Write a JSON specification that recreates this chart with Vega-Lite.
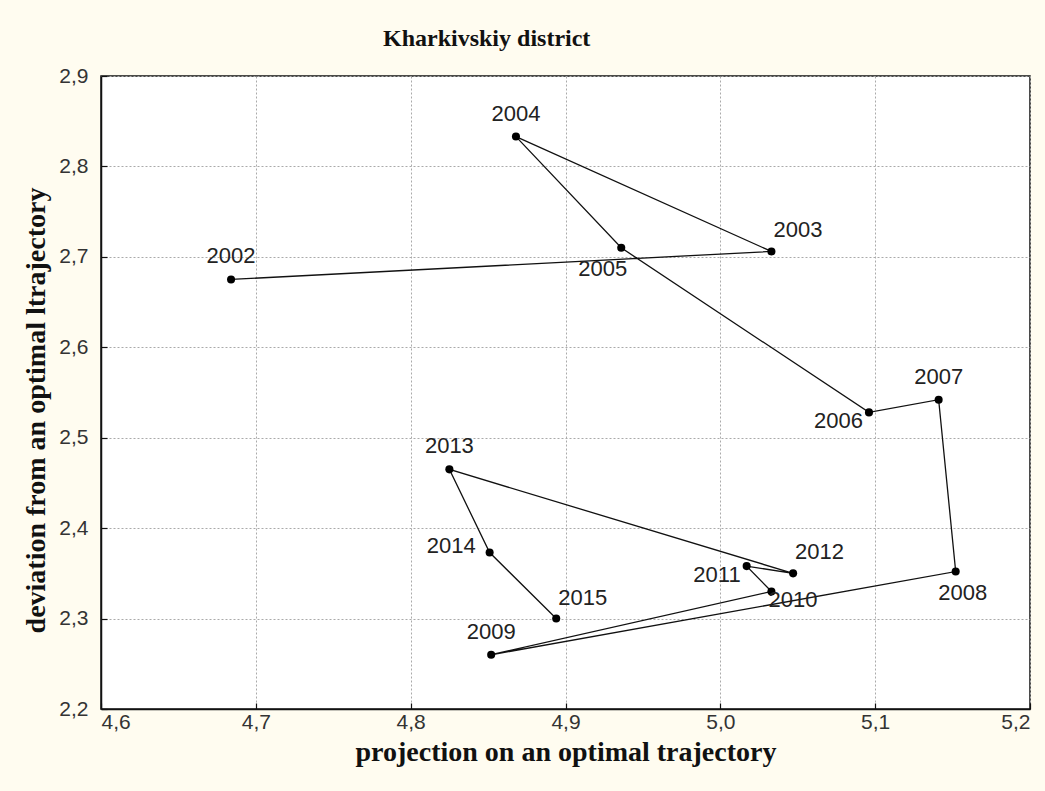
{
  "$schema": "https://vega.github.io/schema/vega-lite/v6.json",
  "width": 929,
  "height": 633,
  "autosize": "none",
  "padding": {"left": 101, "top": 76, "right": 15, "bottom": 82},
  "background": "#FFFCF0",
  "title": {
    "text": "Kharkivskiy district",
    "anchor": "start",
    "frame": "group",
    "dx": 282,
    "offset": 14,
    "font": "Liberation Serif",
    "fontSize": 24,
    "fontWeight": "bold",
    "color": "#111111"
  },
  "data": {
    "values": [
      {"year": 2002, "proj": 4.684, "dev": 2.675},
      {"year": 2003, "proj": 5.033, "dev": 2.706},
      {"year": 2004, "proj": 4.868, "dev": 2.833},
      {"year": 2005, "proj": 4.936, "dev": 2.710},
      {"year": 2006, "proj": 5.096, "dev": 2.528},
      {"year": 2007, "proj": 5.141, "dev": 2.542},
      {"year": 2008, "proj": 5.152, "dev": 2.352},
      {"year": 2009, "proj": 4.852, "dev": 2.260},
      {"year": 2010, "proj": 5.033, "dev": 2.330},
      {"year": 2011, "proj": 5.017, "dev": 2.358},
      {"year": 2012, "proj": 5.047, "dev": 2.350},
      {"year": 2013, "proj": 4.825, "dev": 2.465},
      {"year": 2014, "proj": 4.851, "dev": 2.373},
      {"year": 2015, "proj": 4.894, "dev": 2.300}
    ]
  },
  "encoding": {
    "x": {
      "field": "proj", "type": "quantitative",
      "scale": {"domain": [4.6, 5.2], "nice": false, "zero": false},
      "axis": {
        "title": "projection on an optimal trajectory",
        "values": [4.6, 4.7, 4.8, 4.9, 5.0, 5.1, 5.2],
        "labelExpr": "replace(format(datum.value, '.1f'), '.', ',')"
      }
    },
    "y": {
      "field": "dev", "type": "quantitative",
      "scale": {"domain": [2.2, 2.9], "nice": false, "zero": false},
      "axis": {
        "title": "deviation from an optimal ltrajectory",
        "values": [2.2, 2.3, 2.4, 2.5, 2.6, 2.7, 2.8, 2.9],
        "labelExpr": "replace(format(datum.value, '.1f'), '.', ',')",
        "titleY": 334
      }
    }
  },
  "layer": [
    {
      "mark": {"type": "line", "color": "#111111", "strokeWidth": 1.3},
      "encoding": {"order": {"field": "year", "type": "quantitative"}}
    },
    {
      "mark": {"type": "point", "filled": true, "color": "#000000", "opacity": 1, "size": 65}
    },
    {
      "transform": [{"filter": {"field": "year", "oneOf": [2002, 2004, 2007, 2009, 2013]}}],
      "mark": {"type": "text", "align": "center", "baseline": "middle", "dy": -23, "fontSize": 22, "font": "Liberation Sans", "color": "#222222"},
      "encoding": {"text": {"field": "year", "type": "nominal"}}
    },
    {
      "transform": [{"filter": {"field": "year", "oneOf": [2003, 2012, 2015]}}],
      "mark": {"type": "text", "align": "left", "baseline": "middle", "dx": 2, "dy": -21, "fontSize": 22, "font": "Liberation Sans", "color": "#222222"},
      "encoding": {"text": {"field": "year", "type": "nominal"}}
    },
    {
      "transform": [{"filter": {"field": "year", "oneOf": [2006, 2011]}}],
      "mark": {"type": "text", "align": "right", "baseline": "middle", "dx": -6, "dy": 9, "fontSize": 22, "font": "Liberation Sans", "color": "#222222"},
      "encoding": {"text": {"field": "year", "type": "nominal"}}
    },
    {
      "transform": [{"filter": {"field": "year", "oneOf": [2014]}}],
      "mark": {"type": "text", "align": "right", "baseline": "middle", "dx": -14, "dy": -7, "fontSize": 22, "font": "Liberation Sans", "color": "#222222"},
      "encoding": {"text": {"field": "year", "type": "nominal"}}
    },
    {
      "transform": [{"filter": {"field": "year", "oneOf": [2005]}}],
      "mark": {"type": "text", "align": "right", "baseline": "middle", "dx": 6, "dy": 21, "fontSize": 22, "font": "Liberation Sans", "color": "#222222"},
      "encoding": {"text": {"field": "year", "type": "nominal"}}
    },
    {
      "transform": [{"filter": {"field": "year", "oneOf": [2008]}}],
      "mark": {"type": "text", "align": "center", "baseline": "middle", "dx": 7, "dy": 21, "fontSize": 22, "font": "Liberation Sans", "color": "#222222"},
      "encoding": {"text": {"field": "year", "type": "nominal"}}
    },
    {
      "transform": [{"filter": {"field": "year", "oneOf": [2010]}}],
      "mark": {"type": "text", "align": "left", "baseline": "middle", "dx": -3, "dy": 9, "fontSize": 22, "font": "Liberation Sans", "color": "#222222"},
      "encoding": {"text": {"field": "year", "type": "nominal"}}
    }
  ],
  "config": {
    "view": {"fill": "#FFFFFF", "stroke": "#111111", "strokeWidth": 1.5},
    "axis": {
      "domainColor": "#111111",
      "domainWidth": 1.5,
      "grid": true,
      "gridColor": "#AAAAAA",
      "gridDash": [2, 2],
      "gridWidth": 1,
      "tickColor": "#111111",
      "tickSize": -6,
      "tickWidth": 1.2,
      "labelFont": "Liberation Sans",
      "labelFontSize": 21,
      "labelColor": "#333333",
      "titleFont": "Liberation Serif",
      "titleFontSize": 28,
      "titleFontWeight": "bold",
      "titleColor": "#111111"
    },
    "axisX": {"labelPadding": 8, "titlePadding": 6},
    "axisY": {"labelPadding": 19, "titlePadding": 8}
  }
}
